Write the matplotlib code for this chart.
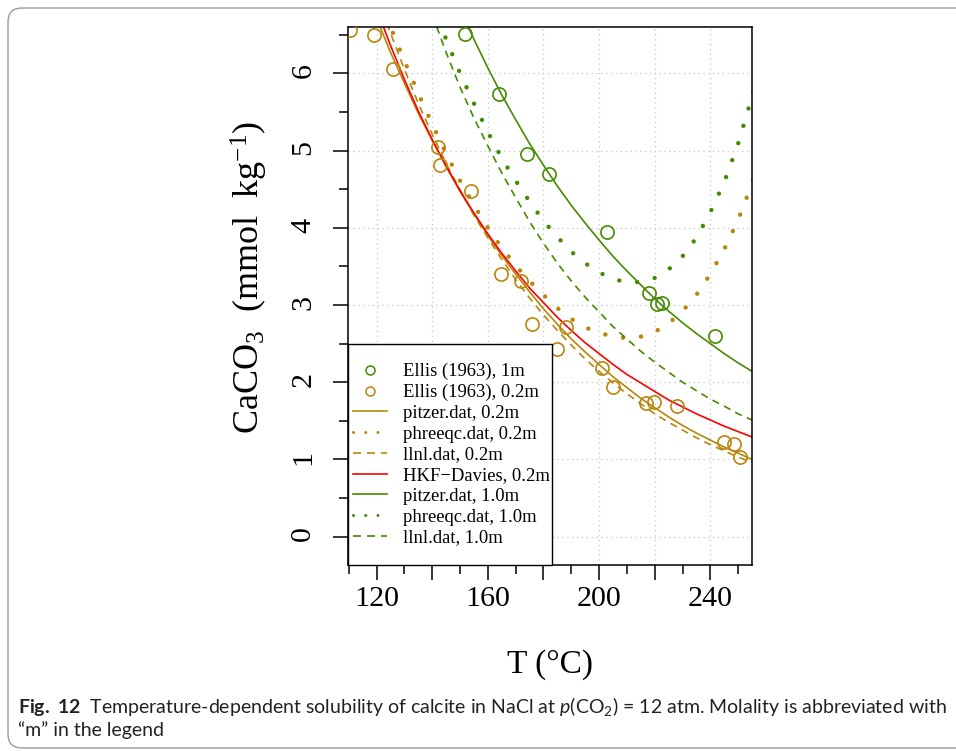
import matplotlib
matplotlib.use("Agg")
import matplotlib.pyplot as plt
from matplotlib.lines import Line2D
from matplotlib.patches import FancyBboxPatch, Rectangle
import numpy as np

plt.rcParams['font.family'] = ['Liberation Serif', 'DejaVu Serif']
plt.rcParams['mathtext.fontset'] = 'custom'
plt.rcParams['mathtext.rm'] = 'Lato'
plt.rcParams['mathtext.it'] = 'Lato:italic'
plt.rcParams['mathtext.bf'] = 'Lato:bold'

# Ellis (1963) measurements
ellis_1m_T = [151.9, 164.0, 173.9, 182.0, 202.8, 218.0, 220.7, 222.7, 241.8]
ellis_1m_v = [6.51, 5.73, 4.96, 4.70, 3.94, 3.15, 3.01, 3.02, 2.60]
ellis_02_T = [110.4, 118.9, 126.0, 141.9, 142.9, 153.9, 164.7, 171.8, 175.8, 184.7,
              188.1, 200.9, 204.9, 216.8, 219.8, 227.9, 244.9, 248.5, 250.7]
ellis_02_v = [6.56, 6.49, 6.05, 5.04, 4.81, 4.48, 3.40, 3.31, 2.75, 2.43,
              2.71, 2.18, 1.94, 1.73, 1.74, 1.69, 1.22, 1.20, 1.03]

# model curves, 0.2 m (T = 120 ... 260 step 5)
T_02 = list(range(120, 261, 5))
pitzer_02 = [6.71, 6.27, 5.87, 5.48, 5.13, 4.79, 4.47, 4.18, 3.90, 3.64, 3.40, 3.17, 2.95, 2.75, 2.56,
             2.39, 2.23, 2.07, 1.93, 1.79, 1.67, 1.55, 1.44, 1.34, 1.25, 1.16, 1.08, 1.00, 0.93]
phreeqc_02 = [7.10, 6.60, 6.16, 5.74, 5.34, 4.96, 4.61, 4.29, 4.00, 3.74, 3.51, 3.31, 3.13, 2.96, 2.82,
              2.71, 2.64, 2.59, 2.57, 2.59, 2.65, 2.76, 2.92, 3.13, 3.40, 3.72, 4.10, 4.57, 5.05]
llnl_02 = [7.03, 6.52, 6.05, 5.61, 5.21, 4.83, 4.49, 4.16, 3.87, 3.59, 3.33, 3.09, 2.87, 2.67, 2.48,
           2.30, 2.14, 1.99, 1.85, 1.72, 1.59, 1.48, 1.38, 1.28, 1.19, 1.11, 1.03, 0.96, 0.89]
hkf_02 = [6.83, 6.36, 5.92, 5.51, 5.14, 4.80, 4.48, 4.19, 3.92, 3.67, 3.44, 3.22, 3.03, 2.84, 2.67,
          2.51, 2.37, 2.23, 2.10, 1.99, 1.88, 1.77, 1.68, 1.59, 1.51, 1.43, 1.36, 1.29, 1.22]

# model curves, 1.0 m
T_pitzer_10 = list(range(150, 261, 5))
pitzer_10 = [6.84, 6.44, 6.07, 5.72, 5.40, 5.09, 4.81, 4.54, 4.29, 4.06, 3.84, 3.63, 3.44, 3.26,
             3.08, 2.92, 2.77, 2.63, 2.50, 2.37, 2.25, 2.14, 2.04]
T_10 = list(range(140, 261, 5))
phreeqc_10 = [6.90, 6.44, 6.00, 5.61, 5.24, 4.90, 4.61, 4.34, 4.09, 3.88, 3.69, 3.54, 3.42, 3.34,
              3.29, 3.30, 3.35, 3.46, 3.63, 3.87, 4.20, 4.59, 5.09, 5.70, 6.40]
llnl_10 = [6.76, 6.27, 5.82, 5.42, 5.06, 4.71, 4.39, 4.08, 3.80, 3.54, 3.31, 3.10, 2.91, 2.72,
           2.56, 2.40, 2.26, 2.13, 2.00, 1.89, 1.78, 1.69, 1.59, 1.51, 1.43]

legend_labels = ["Ellis (1963), 1m", "Ellis (1963), 0.2m", "pitzer.dat, 0.2m", "phreeqc.dat, 0.2m",
                 "llnl.dat, 0.2m", "HKF\u2212Davies, 0.2m", "pitzer.dat, 1.0m", "phreeqc.dat, 1.0m",
                 "llnl.dat, 1.0m"]

gold = "#B8860B"
green = "#458B00"
red = "#FF0000"

lw = 1.2
dash = (0, (4.4, 3.3))
dots = (0, (0.01, 4.05))

fig = plt.figure(figsize=(9.56, 7.51), dpi=100)

# rounded frame around figure + caption
bg = fig.add_axes([0, 0, 1, 1])
bg.set_xlim(0, 956)
bg.set_ylim(751, 0)
bg.axis('off')
bg.add_patch(FancyBboxPatch((8, 8), 1000, 740, boxstyle="round,pad=0,rounding_size=14",
                            fc='white', ec='#9a9a9a', lw=1.0))

ax = fig.add_axes([348 / 956, 1 - 565 / 751, 404.3 / 956, 538 / 751])
ax.set_xlim(109.7, 255.1)
ax.set_ylim(-0.368, 6.60)

ax.set_xticks(np.arange(120, 241, 20))
ax.set_xticklabels(['120', '', '160', '', '200', '', '240'])
ax.set_xticks(np.arange(110, 256, 10), minor=True)
ax.set_yticks(range(0, 7))
ax.set_yticks(np.arange(0.5, 6.6, 1.0), minor=True)
ax.grid(True, which='major', color='#cccccc', linestyle=(0, (1, 2.5)), lw=1.0)
ax.set_axisbelow(True)
ax.tick_params(which='major', length=10.8, width=1.1, labelsize=21.6, direction='out')
ax.tick_params(which='minor', length=6.2, width=1.1, direction='out')
ax.tick_params(axis='y', labelrotation=90, pad=12)
ax.tick_params(axis='x', pad=4)
for s in ax.spines.values():
    s.set_linewidth(1.1)

ax.plot(T_02, pitzer_02, color=gold, lw=lw, zorder=2)
ax.plot(T_02, llnl_02, color=gold, lw=lw, linestyle=dash, zorder=2)
ax.plot(T_02, phreeqc_02, color=gold, lw=3.2, linestyle=dots, dash_capstyle='round', zorder=2)
ax.plot(T_02, hkf_02, color=red, lw=lw, zorder=2)
ax.plot(T_pitzer_10, pitzer_10, color=green, lw=lw, zorder=2)
ax.plot(T_10, llnl_10, color=green, lw=lw, linestyle=dash, zorder=2)
ax.plot(T_10, phreeqc_10, color=green, lw=3.2, linestyle=dots, dash_capstyle='round', zorder=2)
ax.plot(ellis_02_T, ellis_02_v, 'o', ms=9.5, mfc='none', mec=gold, mew=1.2, zorder=3)
ax.plot(ellis_1m_T, ellis_1m_v, 'o', ms=9.5, mfc='none', mec=green, mew=1.2, zorder=3)

# legend
box_w = (552.3 - 348) / 404.3
box_h = (565 - 344.3) / 538
ax.add_patch(Rectangle((0, 0), box_w, box_h, transform=ax.transAxes, fc='white', ec='black',
                       lw=1.0, zorder=5, clip_on=False))
ldash = (0, (4.8, 3.6))
ldots = (0, (0.01, 4.0))
handles = [
    Line2D([], [], ls='none', marker='o', ms=6.5, mfc='none', mec=green, mew=1.1),
    Line2D([], [], ls='none', marker='o', ms=6.5, mfc='none', mec=gold, mew=1.1),
    Line2D([], [], color=gold, lw=lw),
    Line2D([], [], color=gold, lw=2.2, ls=ldots, dash_capstyle='round'),
    Line2D([], [], color=gold, lw=lw, ls=ldash),
    Line2D([], [], color=red, lw=lw),
    Line2D([], [], color=green, lw=lw),
    Line2D([], [], color=green, lw=2.2, ls=ldots, dash_capstyle='round'),
    Line2D([], [], color=green, lw=lw, ls=ldash),
]
leg = ax.legend(handles, legend_labels, loc='center left',
                bbox_to_anchor=(4.7 / 404.3, box_h / 2),
                frameon=False, fontsize=13.4, handlelength=1.83, handletextpad=0.89,
                labelspacing=0.2, borderpad=0, borderaxespad=0)
leg.set_zorder(6)

# axis labels
fig.text(550 / 956, 1 - 665 / 751, "T (\u00b0C)", ha='center', va='center', fontsize=24)
fig.text(249 / 956, 1 - 277 / 751, r"CaCO$\mathregular{_3}$  (mmol  kg$\mathregular{^{-1}}$)",
         ha='center', va='center', rotation=90, fontsize=26)

# caption
cap1 = fig.text(18 / 956, 1 - 706 / 751,
                r"$\mathbf{Fig.\ 12}$  Temperature-dependent solubility of calcite in NaCl at "
                r"$p$(CO$_2$) = 12 atm. Molality is abbreviated with",
                ha='left', va='center', fontsize=12, family='Lato', color='#222222')
cap2 = fig.text(18 / 956, 1 - 730 / 751, "\u201cm\u201d in the legend",
                ha='left', va='center', fontsize=12, family='Lato', color='#222222')
fig.canvas.draw()
w = cap1.get_window_extent().width
scale = 927 / w
cap1.set_fontsize(12 * scale)
cap2.set_fontsize(12 * scale)

fig.savefig("out.png", dpi=100)
